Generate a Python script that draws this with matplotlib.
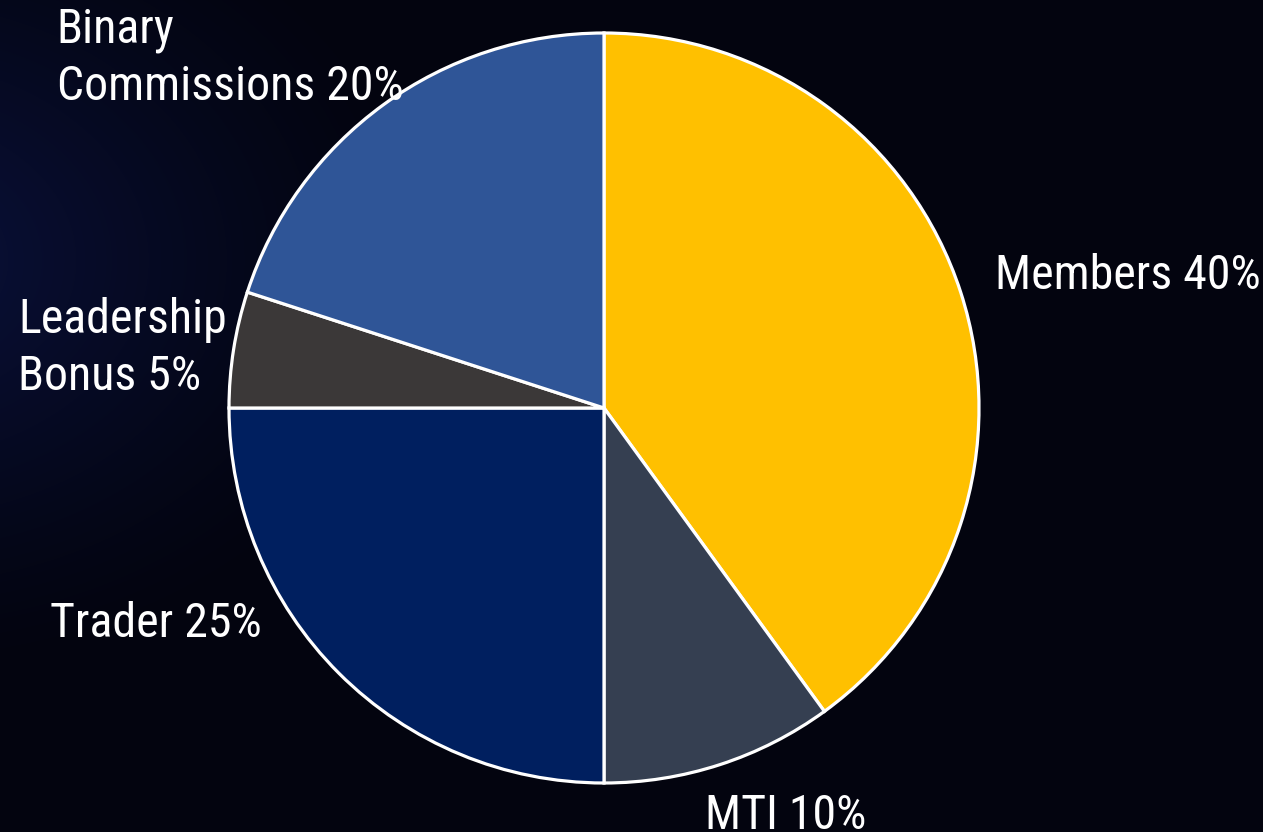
import matplotlib.pyplot as plt
import numpy as np

# data
labels = ["Members 40%", "MTI 10%", "Trader 25%", "Leadership\nBonus 5%", "Binary\nCommissions 20%"]
shares = [40, 10, 25, 5, 20]
colors = ["#FFC000", "#353F51", "#001F5F", "#3B3838", "#2F5597"]

# label anchor (left x, baseline y of last line) in pie units
label_pos = [(1.043, 0.317), (0.269, -1.123), (-1.477, -0.611),
             (-1.563, 0.048), (-1.459, 0.821)]

W, H = 1263, 832
fig = plt.figure(figsize=(W / 100, H / 100), dpi=100)

# dark background with a faint blue glow on the left
bg = fig.add_axes([0, 0, 1, 1])
yy, xx = np.mgrid[0:H, 0:W]
d = np.sqrt(((xx + 120) / 560.0) ** 2 + ((yy - 260) / 420.0) ** 2)
glow = np.clip(1 - d, 0, 1) ** 1.3
base = np.array([3, 4, 15]) / 255.0
blue = np.array([10, 18, 62]) / 255.0
img = base + glow[..., None] * (blue - base)
bg.imshow(img, extent=[0, 1, 0, 1], aspect="auto", origin="upper")
bg.axis("off")

cx, cy, r = 604, 408, 375
ax = fig.add_axes([(cx - r) / W, (H - cy - r) / H, 2 * r / W, 2 * r / H])
ax.pie(shares, colors=colors, startangle=90, counterclock=False, radius=1,
       wedgeprops=dict(edgecolor="white", linewidth=2.3))
ax.set_xlim(-1, 1)
ax.set_ylim(-1, 1)
ax.set_aspect("auto")
ax.axis("off")

for lab, (x, y) in zip(labels, label_pos):
    ax.text(x, y, lab, ha="left", va="baseline", color="white", fontsize=34.5,
            family=["DejaVu Sans Condensed", "Roboto Condensed",
                    "Liberation Sans Narrow", "Roboto"],
            linespacing=1.3, clip_on=False)

fig.savefig("out.png", dpi=100)
